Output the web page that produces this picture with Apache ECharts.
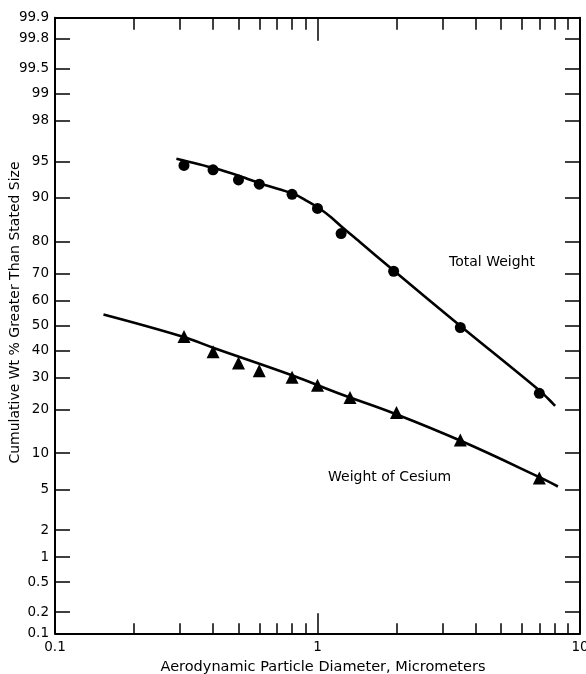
<!DOCTYPE html>
<html>
<head>
<meta charset="utf-8">
<script src="https://cdn.jsdelivr.net/npm/echarts@6/dist/echarts.min.js"></script>
<style>
html,body{margin:0;padding:0;background:#fff;}
#chart{width:586px;height:674px;}
</style>
</head>
<body>
<div id="chart"></div>
<script>
// ---- data ----
const totalX = [0.31, 0.40, 0.50, 0.60, 0.80, 1.00, 1.23, 1.95, 3.5, 7.0];
const totalY = [94.6, 94.1, 92.8, 92.2, 90.6, 88.0, 82.2, 70.7, 49.2, 24.8];
const cesiumX = [0.31, 0.40, 0.50, 0.60, 0.80, 1.00, 1.33, 2.0, 3.5, 7.0];
const cesiumY = [45.6, 39.6, 35.3, 32.5, 30.2, 27.4, 23.5, 19.1, 12.5, 6.3];
const totalFitX = [0.29, 0.403, 0.508, 0.618, 0.81, 0.906, 1.024, 1.129, 1.233, 1.446, 1.94, 3.55, 7.05, 8.04];
const totalFitY = [95.3, 94.3, 93.3, 92.2, 90.7, 89.5, 87.9, 86.1, 84.0, 80.0, 71.1, 49.3, 25.5, 21.0];
const cesiumFitX = [0.153, 0.305, 0.405, 0.804, 1.193, 1.97, 3.53, 7.1, 8.24];
const cesiumFitY = [54.4, 45.6, 41.0, 30.8, 24.9, 18.8, 12.3, 6.3, 5.3];

const pctTicks = [0.1, 0.2, 0.5, 1, 2, 5, 10, 20, 30, 40, 50, 60, 70, 80, 90, 95, 98, 99, 99.5, 99.8, 99.9];
const pctLabels = ['0.1','0.2','0.5','1','2','5','10','20','30','40','50','60','70','80','90','95','98','99','99.5','99.8','99.9'];
const xMajor = [0.1, 1, 10];
const xMajorLabels = ['0.1', '1', '10'];
const xMinor = [0.2, 0.3, 0.4, 0.5, 0.6, 0.7, 0.8, 0.9, 2, 3, 4, 5, 6, 7, 8, 9];

// ---- probability scale transform (inverse normal CDF) ----
function probit(p) {
  const a = [-3.969683028665376e+01, 2.209460984245205e+02, -2.759285104469687e+02, 1.383577518672690e+02, -3.066479806614716e+01, 2.506628277459239e+00];
  const b = [-5.447609879822406e+01, 1.615858368580409e+02, -1.556989798598866e+02, 6.680131188771972e+01, -1.328068155288572e+01];
  const c = [-7.784894002430293e-03, -3.223964580411365e-01, -2.400758277161838e+00, -2.549732251593580e+00, 4.374664141464968e+00, 2.938163982698783e+00];
  const d = [7.784695709041462e-03, 3.224671290700398e-01, 2.445134137142996e+00, 3.754408661907416e+00];
  const plow = 0.02425, phigh = 1 - plow;
  let q, r;
  if (p < plow) {
    q = Math.sqrt(-2 * Math.log(p));
    return (((((c[0]*q+c[1])*q+c[2])*q+c[3])*q+c[4])*q+c[5]) / ((((d[0]*q+d[1])*q+d[2])*q+d[3])*q+1);
  } else if (p <= phigh) {
    q = p - 0.5; r = q*q;
    return (((((a[0]*r+a[1])*r+a[2])*r+a[3])*r+a[4])*r+a[5])*q / (((((b[0]*r+b[1])*r+b[2])*r+b[3])*r+b[4])*r+1);
  } else {
    q = Math.sqrt(-2 * Math.log(1 - p));
    return -(((((c[0]*q+c[1])*q+c[2])*q+c[3])*q+c[4])*q+c[5]) / ((((d[0]*q+d[1])*q+d[2])*q+d[3])*q+1);
  }
}
const z = pct => probit(pct / 100);
const zTicks = pctTicks.map(z);
const yMin = z(0.1) - 1e-9, yMax = z(99.9) + 1e-9;
function pctLabelOf(v) {
  let best = 0;
  for (let i = 1; i < zTicks.length; i++) if (Math.abs(zTicks[i] - v) < Math.abs(zTicks[best] - v)) best = i;
  return pctLabels[best];
}
const pairs = (xs, ys) => xs.map((x, i) => [x, z(ys[i])]);

const INK = '#000';
const FONT = 'DejaVu Sans';
const gridRect = { left: 55, right: 6, top: 17.7, bottom: 40.7, containLabel: false, outerBoundsMode: 'none' };

function xAx(gridIndex, position, ticks, len, showLine, labels) {
  return {
    type: 'log', logBase: 10, min: 0.1, max: 10, gridIndex, position,
    axisLine: { show: showLine, onZero: false, lineStyle: { color: INK, width: 2 } },
    axisTick: { show: true, inside: true, length: len, customValues: ticks, lineStyle: { color: INK, width: 1.5 } },
    axisLabel: labels ? {
      show: true, customValues: xMajor, margin: 7, color: INK, fontFamily: FONT, fontSize: 13.5,
      formatter: v => { let b = 0; xMajor.forEach((m, i) => { if (Math.abs(Math.log10(m) - Math.log10(v)) < Math.abs(Math.log10(xMajor[b]) - Math.log10(v))) b = i; }); return xMajorLabels[b]; }
    } : { show: false },
    splitLine: { show: false }, minorTick: { show: false }, minorSplitLine: { show: false }
  };
}
function yAx(gridIndex, position, showLabels) {
  return {
    type: 'value', min: yMin, max: yMax, gridIndex, position,
    axisLine: { show: true, onZero: false, lineStyle: { color: INK, width: 2 } },
    axisTick: { show: true, inside: true, length: 15, customValues: zTicks, lineStyle: { color: INK, width: 1.5 } },
    axisLabel: showLabels ? {
      show: true, customValues: zTicks, margin: 6, color: INK, fontFamily: FONT, fontSize: 13.5,
      formatter: v => pctLabelOf(v)
    } : { show: false },
    splitLine: { show: false }
  };
}

const chart = echarts.init(document.getElementById('chart'), null, { renderer: 'canvas' });
chart.setOption({
  animation: false,
  backgroundColor: '#fff',
  grid: [Object.assign({}, gridRect), Object.assign({}, gridRect)],
  xAxis: [
    xAx(0, 'bottom', xMajor, 20, true, true),
    xAx(0, 'top', xMajor, 23, true, false),
    xAx(1, 'bottom', xMinor, 10, false, false),
    xAx(1, 'top', xMinor, 12, false, false)
  ],
  yAxis: [
    yAx(0, 'left', true),
    yAx(0, 'right', false),
    { type: 'value', gridIndex: 1, min: 0, max: 1, show: false }
  ],
  graphic: [
    { type: 'text', x: 449, y: 262, silent: true,
      style: { text: 'Total Weight', fill: INK, fontFamily: FONT, fontSize: 14, align: 'left', verticalAlign: 'middle', textAlign: 'left', textVerticalAlign: 'middle' } },
    { type: 'text', x: 328, y: 477, silent: true,
      style: { text: 'Weight of Cesium', fill: INK, fontFamily: FONT, fontSize: 14, align: 'left', verticalAlign: 'middle', textAlign: 'left', textVerticalAlign: 'middle' } },
    { type: 'text', x: 15, y: 312.5, rotation: Math.PI / 2, silent: true,
      style: { text: 'Cumulative Wt % Greater Than Stated Size', fill: INK, fontFamily: FONT, fontSize: 14, align: 'center', verticalAlign: 'middle', textAlign: 'center', textVerticalAlign: 'middle' } },
    { type: 'text', x: 323, y: 667, silent: true,
      style: { text: 'Aerodynamic Particle Diameter, Micrometers', fill: INK, fontFamily: FONT, fontSize: 14.5, align: 'center', verticalAlign: 'middle', textAlign: 'center', textVerticalAlign: 'middle' } }
  ],
  series: [
    { name: 'Total Weight fit', type: 'line', xAxisIndex: 0, yAxisIndex: 0, data: pairs(totalFitX, totalFitY),
      showSymbol: false, smooth: 0.3, lineStyle: { color: INK, width: 2.6 }, itemStyle: { color: INK }, z: 3 },
    { name: 'Total Weight', type: 'scatter', xAxisIndex: 0, yAxisIndex: 0, data: pairs(totalX, totalY),
      symbol: 'circle', symbolSize: 11, itemStyle: { color: INK, opacity: 1 }, z: 4 },
    { name: 'Weight of Cesium fit', type: 'line', xAxisIndex: 0, yAxisIndex: 0, data: pairs(cesiumFitX, cesiumFitY),
      showSymbol: false, smooth: 0.4, lineStyle: { color: INK, width: 2.6 }, itemStyle: { color: INK }, z: 3 },
    { name: 'Weight of Cesium', type: 'scatter', xAxisIndex: 0, yAxisIndex: 0, data: pairs(cesiumX, cesiumY),
      symbol: 'triangle', symbolSize: 13, itemStyle: { color: INK, opacity: 1 }, z: 4 }
  ]
});
</script>
</body>
</html>
